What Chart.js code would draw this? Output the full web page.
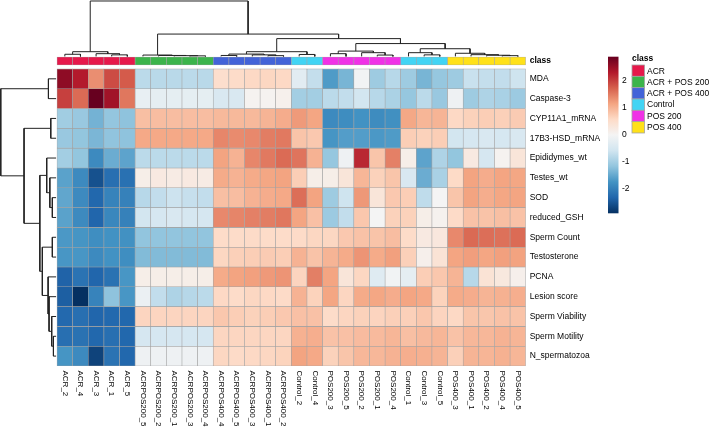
<!DOCTYPE html>
<html>
<head>
<meta charset="utf-8">
<script src="https://cdn.jsdelivr.net/npm/chart.js@4/dist/chart.umd.min.js"></script>
<style>
  html, body { margin: 0; padding: 0; background: #fff; }
  #wrap { width: 709px; height: 431px; }
</style>
</head>
<body>
<div id="wrap"><canvas id="heatmap" width="709" height="431"></canvas></div>
<script>
// samples in the clustered (display) order
const samples = ['ACR_2', 'ACR_4', 'ACR_3', 'ACR_1', 'ACR_5',
  'ACRPOS200_5', 'ACRPOS200_2', 'ACRPOS200_1', 'ACRPOS200_3', 'ACRPOS200_4',
  'ACRPOS400_4', 'ACRPOS400_5', 'ACRPOS400_3', 'ACRPOS400_1', 'ACRPOS400_2',
  'Control_2', 'Control_4',
  'POS200_3', 'POS200_5', 'POS200_2', 'POS200_1', 'POS200_4',
  'Control_1', 'Control_3', 'Control_5',
  'POS400_3', 'POS400_1', 'POS400_2', 'POS400_4', 'POS400_5'];
const sampleClass = [0, 0, 0, 0, 0, 1, 1, 1, 1, 1, 2, 2, 2, 2, 2, 3, 3, 4, 4, 4, 4, 4, 3, 3, 3, 5, 5, 5, 5, 5];
const classNames = ['ACR', 'ACR + POS 200', 'ACR + POS 400', 'Control', 'POS 200', 'POS 400'];
const classColors = ['#e6194b', '#3cb44b', '#4363d8', '#42d4f4', '#f032e6', '#ffe119'];

const variables = ['MDA', 'Caspase-3', 'CYP11A1_mRNA', '17B3-HSD_mRNA', 'Epididymes_wt', 'Testes_wt',
  'SOD', 'reduced_GSH', 'Sperm Count', 'Testosterone', 'PCNA', 'Lesion score',
  'Sperm Viability', 'Sperm Motility', 'N_spermatozoa'];

// row-scaled values (z), one array per variable, in sample order
const zMDA = [2.6, 2.3, 1.35, 1.9, 1.78, -0.78, -0.8, -0.8, -0.78, -0.8, 0.5, 0.55, 0.6, 0.62, 0.6, -0.3, -0.7, -1.65, -1.35, -0.05, -1.05, -0.82, -1.05, -1.35, -1.12, -1.05, -0.65, -0.7, -0.72, -0.6];
const zCasp = [2.0, 1.65, 2.9, 2.45, 1.55, -0.2, -0.25, -0.25, -0.25, -0.25, -0.45, -0.45, 0.05, 0.05, 0.1, -1.0, -1.0, -0.78, -0.72, -0.55, -0.82, -0.93, -1.12, -0.78, -1.1, -0.1, -1.05, -0.9, -0.95, -1.07];
const zCYP = [-1.02, -1.1, -1.38, -1.14, -1.18, 0.88, 0.9, 0.9, 0.9, 0.9, 0.95, 0.95, 0.95, 1.0, 1.08, 1.25, 1.15, -1.85, -1.82, -1.75, -1.83, -1.78, 1.13, 0.98, 1.0, 0.6, 0.68, 0.72, 0.7, 0.75];
const zHSD = [-1.1, -1.15, -1.33, -1.17, -1.18, 1.12, 1.12, 1.12, 1.12, 1.12, 1.42, 1.38, 1.4, 1.5, 1.53, 0.83, 0.78, -1.72, -1.62, -1.62, -1.68, -1.65, 0.72, 0.68, 0.72, -0.55, -0.5, -0.45, -0.5, -0.45];
const zEpid = [-1.0, -1.15, -1.85, -1.45, -1.55, -0.78, -0.78, -0.78, -0.78, -0.78, 1.17, 1.02, 1.42, 1.53, 1.65, 1.57, 1.02, -1.12, -0.1, 2.2, 0.82, 1.47, 0.15, -1.55, -0.9, -1.15, 0.25, -0.5, 0.05, 0.35];
const zTestes = [-1.57, -1.85, -2.55, -2.2, -2.18, 0.15, 0.25, 0.2, 0.25, 0.2, 1.1, 1.02, 1.1, 1.14, 1.17, 0.72, 0.15, 0.15, 0.35, 0.98, 0.68, 0.82, -0.45, -1.45, -0.95, 0.58, 1.17, 1.08, 1.16, 1.14];
const zSOD = [-1.52, -1.85, -2.3, -1.95, -1.97, -0.82, -0.72, -0.62, -0.68, -0.72, 0.88, 0.9, 1.02, 1.08, 1.12, 1.62, 1.17, -1.05, -0.6, 1.27, 0.35, 0.78, 0.72, -0.75, 0.0, 0.82, 1.17, 1.07, 1.14, 1.16];
const zGSH = [-1.57, -1.85, -2.32, -1.9, -1.97, -0.55, -0.5, -0.45, -0.5, -0.5, 1.4, 1.43, 1.47, 1.5, 1.55, 1.16, 0.87, -1.07, -0.72, 0.8, 0.0, 0.68, 0.68, 0.15, 0.08, 0.57, 0.85, 0.84, 0.88, 0.85];
const zCount = [-1.68, -1.72, -1.8, -1.75, -1.76, -1.16, -1.16, -1.16, -1.16, -1.16, 0.55, 0.55, 0.57, 0.55, 0.55, 0.57, 0.62, 0.62, 0.78, 0.85, 0.83, 0.9, 0.55, 0.25, 0.3, 1.4, 1.66, 1.62, 1.6, 1.65];
const zTesto = [-1.7, -1.7, -1.85, -1.75, -1.8, -1.28, -1.28, -1.28, -1.28, -1.28, 0.62, 0.7, 0.72, 0.75, 0.72, 1.02, 0.84, 1.0, 1.1, 1.3, 1.1, 1.2, 0.7, 0.12, 0.4, 1.16, 1.22, 1.15, 1.2, 1.18];
const zPCNA = [-2.35, -2.15, -2.32, -2.17, -1.7, 0.15, 0.15, 0.15, 0.15, 0.15, 1.1, 1.17, 1.2, 1.26, 1.3, 0.65, 1.48, 1.16, 0.35, 0.62, -0.35, -0.05, -0.25, 0.72, 0.8, 1.0, -0.82, 0.4, 0.28, 0.12];
const zLesion = [-2.4, -2.9, -1.95, -1.18, -1.7, -0.15, -0.72, -0.9, -0.83, -0.78, 0.6, 0.56, 0.62, 0.6, 0.57, 1.02, 0.67, 1.15, 0.63, 1.1, 1.14, 1.08, 1.16, 1.12, 0.67, 1.1, 1.08, 1.0, 1.03, 1.06];
const zViab = [-2.28, -2.2, -2.32, -2.28, -2.3, 0.64, 0.64, 0.64, 0.64, 0.64, 0.8, 0.72, 0.68, 0.72, 0.78, 0.87, 0.86, 0.55, 0.63, 0.68, 0.65, 0.7, 0.7, 0.8, 0.65, 0.6, 0.82, 0.81, 0.85, 0.84];
const zMotil = [-2.2, -2.17, -2.3, -2.2, -2.3, -0.5, -0.5, -0.5, -0.5, -0.5, 0.63, 0.63, 0.63, 0.63, 0.63, 1.03, 1.06, 0.85, 0.87, 0.92, 0.93, 0.98, 0.88, 0.94, 0.98, 0.85, 0.97, 0.97, 1.02, 0.99];
const zNsperm = [-1.72, -1.85, -2.7, -2.15, -2.3, -0.1, -0.1, -0.1, -0.1, -0.1, 0.62, 0.57, 0.6, 0.62, 0.66, 1.17, 1.12, 0.68, 0.82, 0.97, 0.97, 1.02, 1.06, 1.04, 1.0, 0.7, 1.0, 0.99, 1.03, 0.98];
const zRows = [zMDA, zCasp, zCYP, zHSD, zEpid, zTestes, zSOD, zGSH, zCount, zTesto, zPCNA, zLesion, zViab, zMotil, zNsperm];

// dendrograms: [left, right, height]; numbers are leaf positions
const colTree = [
  [[0, 1, 0.11], [2, [3, 4, 0.08], 0.14], 0.24],
  [[5, [6, [7, [8, 9, 0.03], 0.04], 0.05], 0.07],
    [[[[10, 11, 0.05], [12, [13, 14, 0.04], 0.08], 0.12], [15, 16, 0.1], 0.24],
      [[[17, 18, 0.14], [19, [20, 21, 0.07], 0.19], 0.27],
        [[22, [23, 24, 0.08], 0.19], [25, [26, [27, [28, 29, 0.04], 0.06], 0.09], 0.16], 0.39], 0.65], 0.9], 1.13],
  2.8];
const rowTree = [
  [0, 1, 0.49],
  [[2, 3, 0.34],
    [[4, [5, [6, 7, 0.24], 0.4], 0.6],
      [[8, 9, 0.24], [10, [11, [12, [13, 14, 0.17], 0.28], 0.45], 0.51], 0.88], 1.04], 2.05],
  3.54];

const zLimits = [-2.9, 2.9];
const keyTicks = [-2, -1, 0, 1, 2];
const rdbu = ['#053061', '#2166ac', '#4393c3', '#92c5de', '#d1e5f0', '#f4f4f4',
  '#fddbc7', '#f4a582', '#d6604d', '#b2182b', '#67001f'];
const fontFamily = '"Liberation Sans", Arial, Helvetica, sans-serif';

function hexRgb(h) {
  return [1, 3, 5].map(k => parseInt(h.slice(k, k + 2), 16));
}
function zColor(v) {
  const c = Math.max(zLimits[0], Math.min(zLimits[1], v));
  const t = (c - zLimits[0]) / (zLimits[1] - zLimits[0]) * (rdbu.length - 1);
  const i = Math.min(Math.floor(t), rdbu.length - 2);
  const f = t - i;
  const a = hexRgb(rdbu[i]), b = hexRgb(rdbu[i + 1]);
  const m = a.map((x, k) => Math.round(x + (b[k] - x) * f));
  return 'rgb(' + m.join(',') + ')';
}

function dendroPoints(tree, toPoint) {
  const pts = [];
  function walk(node) {
    if (typeof node === 'number') return { pos: node, h: 0 };
    const a = walk(node[0]), b = walk(node[1]), h = node[2];
    pts.push(toPoint(a.pos, a.h), toPoint(a.pos, h), toPoint(b.pos, h), toPoint(b.pos, b.h), { x: null, y: null });
    return { pos: (a.pos + b.pos) / 2, h: h };
  }
  walk(tree);
  return pts;
}

const cellBorder = '#a3a3a3';
const datasets = [];

// heatmap cells, one floating-bar dataset per variable
zRows.forEach((row, r) => {
  datasets.push({
    type: 'bar',
    label: variables[r],
    data: samples.map((s, i) => ({ x: i, y: [r, r + 1] })),
    backgroundColor: row.map(zColor),
    borderColor: cellBorder,
    borderWidth: 0.6,
    borderSkipped: false,
    grouped: false,
    barPercentage: 1,
    categoryPercentage: 1
  });
});

// class annotation strip
datasets.push({
  type: 'bar',
  label: 'class',
  data: samples.map((s, i) => ({ x: i, y: [-0.6, -0.2] })),
  backgroundColor: sampleClass.map(c => classColors[c]),
  borderColor: cellBorder,
  borderWidth: 0.6,
  borderSkipped: false,
  grouped: false,
  barPercentage: 1,
  categoryPercentage: 1
});

// column dendrogram above the strip, row dendrogram left of the grid
const lineStyle = { type: 'line', borderColor: '#222', borderWidth: 1, pointRadius: 0, fill: false, tension: 0, spanGaps: false, clip: false };
datasets.push(Object.assign({ label: 'colDendro', data: dendroPoints(colTree, (p, h) => ({ x: p, y: -0.63 - h })) }, lineStyle));
datasets.push(Object.assign({ label: 'rowDendro', data: dendroPoints(rowTree, (p, h) => ({ x: -0.56 - h, y: p + 0.5 })) }, lineStyle));

const extras = {
  id: 'extras',
  afterDraw(chart) {
    const ctx = chart.ctx, xs = chart.scales.x, area = chart.chartArea;
    ctx.save();
    ctx.fillStyle = '#000';

    // sample labels, rotated
    ctx.font = '8px ' + fontFamily;
    ctx.textAlign = 'left';
    ctx.textBaseline = 'middle';
    samples.forEach((s, i) => {
      ctx.save();
      ctx.translate(xs.getPixelForValue(i), area.bottom + 4.5);
      ctx.rotate(Math.PI / 2);
      ctx.fillText(s, 0, 0);
      ctx.restore();
    });

    // colour key
    const kx = 608, kw = 10.5, kMid = 135, kUnit = 27;
    const top = kMid - zLimits[1] * kUnit, bottom = kMid - zLimits[0] * kUnit;
    const grad = ctx.createLinearGradient(0, top, 0, bottom);
    rdbu.slice().reverse().forEach((c, i) => grad.addColorStop(i / (rdbu.length - 1), c));
    ctx.fillStyle = grad;
    ctx.fillRect(kx, top, kw, bottom - top);
    ctx.fillStyle = '#000';
    ctx.font = '8.5px ' + fontFamily;
    keyTicks.forEach(t => ctx.fillText(String(t), kx + 14, kMid - t * kUnit));

    // class legend
    const lx = 632, ly = 65, lh = 11.33;
    ctx.font = 'bold 8.5px ' + fontFamily;
    ctx.fillText('class', lx, 58.5);
    ctx.font = '8.5px ' + fontFamily;
    classNames.forEach((n, k) => {
      ctx.fillStyle = classColors[k];
      ctx.fillRect(lx, ly + k * lh, 12.5, lh);
      ctx.strokeStyle = cellBorder;
      ctx.lineWidth = 0.8;
      ctx.strokeRect(lx, ly + k * lh, 12.5, lh);
      ctx.fillStyle = '#000';
      ctx.fillText(n, lx + 15, ly + k * lh + lh / 2 + 0.5);
    });
    ctx.restore();
  }
};

new Chart(document.getElementById('heatmap'), {
  type: 'bar',
  data: { datasets: datasets },
  options: {
    responsive: false,
    animation: false,
    events: [],
    layout: { padding: { left: 0, right: 0, top: 0, bottom: 65 } },
    plugins: {
      legend: { display: false },
      tooltip: { enabled: false }
    },
    scales: {
      x: {
        type: 'linear',
        min: -4.15,
        max: 29.5,
        offset: false,
        display: false,
        afterBuildTicks: s => { s.ticks = samples.map((_, i) => ({ value: i })); }
      },
      y: {
        type: 'linear',
        position: 'right',
        reverse: true,
        min: -3.48,
        max: 15,
        grid: { display: false, drawTicks: false },
        border: { display: false },
        afterBuildTicks: s => {
          s.ticks = [{ value: -0.4 }].concat(variables.map((_, i) => ({ value: i + 0.5 })));
        },
        afterFit: s => { s.width = 183.3; s.paddingTop = 0; s.paddingBottom = 0; },
        ticks: {
          autoSkip: false,
          padding: 4,
          color: '#000',
          font: c => ({ family: fontFamily, size: 8.5, weight: c.index === 0 ? 'bold' : 'normal' }),
          callback: (v, i) => (i === 0 ? 'class' : variables[i - 1])
        }
      }
    }
  },
  plugins: [extras]
});
</script>
</body>
</html>
